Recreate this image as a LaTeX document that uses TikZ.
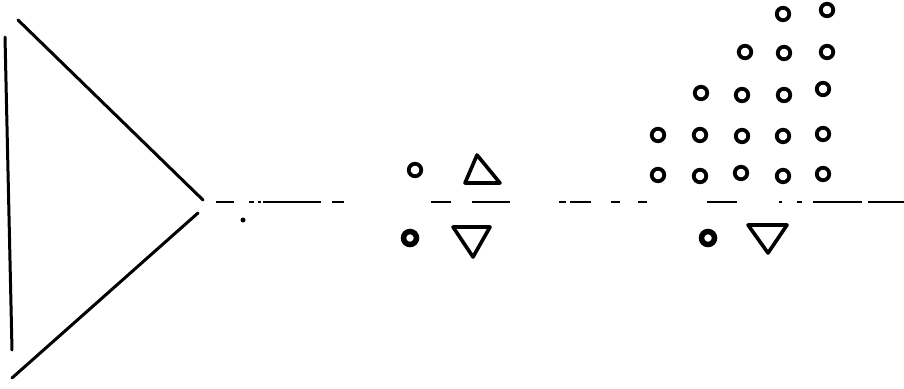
\documentclass[tikz,border=0pt]{standalone}
\begin{document}
\begin{tikzpicture}[x=1pt,y=-1pt,
  ring/.style={circle,draw=black,line width=3.8pt,minimum size=12.5pt,inner sep=0pt},
  blob/.style={circle,draw=black,line width=5.5pt,minimum size=13pt,inner sep=0pt},
  stroke/.style={line width=3pt,line cap=round,line join=round},
  tri/.style={line width=3.6pt,line join=round},
  axisseg/.style={line width=2.2pt}]
\useasboundingbox (0,0) rectangle (904,388);
% big triangle
\coordinate (A) at (5,37);
\coordinate (B) at (12,350);
\coordinate (C) at (18,20);
\coordinate (D) at (203,200);
\coordinate (E) at (198,213);
\coordinate (F) at (12,378);
\draw[stroke] (A) -- (B);
\draw[stroke] (C) -- (D);
\draw[stroke] (E) -- (F);
% dashed axis
\foreach \a/\b in {216/234,249/254,258/261,263/321,332/344,431/451,472/510,559/566,570/591,611/620,638/647,707/737,779/782,797/802,813/862,868/904}
  \draw[axisseg] (\a,202) -- (\b,202);
\node[circle,fill=black,inner sep=0pt,minimum size=5pt] (dot) at (243,220) {};
% middle group
\node[ring] (m1) at (415,170) {};
\node[blob] (m2) at (410,238) {};
\coordinate (u1) at (477,155);
\coordinate (u2) at (465,183);
\coordinate (u3) at (500,183);
\draw[tri] (u1) -- (u2) -- (u3) -- cycle;
\coordinate (v1) at (453,227);
\coordinate (v2) at (490,227);
\coordinate (v3) at (473,257);
\draw[tri] (v1) -- (v2) -- (v3) -- cycle;
% right group
\node[ring] (r11) at (783,14) {};
\node[ring] (r12) at (827,10) {};
\node[ring] (r21) at (745,52) {};
\node[ring] (r22) at (784,53) {};
\node[ring] (r23) at (827,52) {};
\node[ring] (r31) at (701,93) {};
\node[ring] (r32) at (742,95) {};
\node[ring] (r33) at (784,95) {};
\node[ring] (r34) at (823,89) {};
\node[ring] (r41) at (658,135) {};
\node[ring] (r42) at (700,135) {};
\node[ring] (r43) at (742,136) {};
\node[ring] (r44) at (783,136) {};
\node[ring] (r45) at (823,134) {};
\node[ring] (r51) at (658,175) {};
\node[ring] (r52) at (700,176) {};
\node[ring] (r53) at (741,173) {};
\node[ring] (r54) at (783,176) {};
\node[ring] (r55) at (823,174) {};
\node[blob] (r6) at (708,238) {};
\coordinate (w1) at (748,225);
\coordinate (w2) at (787,225);
\coordinate (w3) at (768,253);
\draw[tri] (w1) -- (w2) -- (w3) -- cycle;
\end{tikzpicture}
\end{document}
